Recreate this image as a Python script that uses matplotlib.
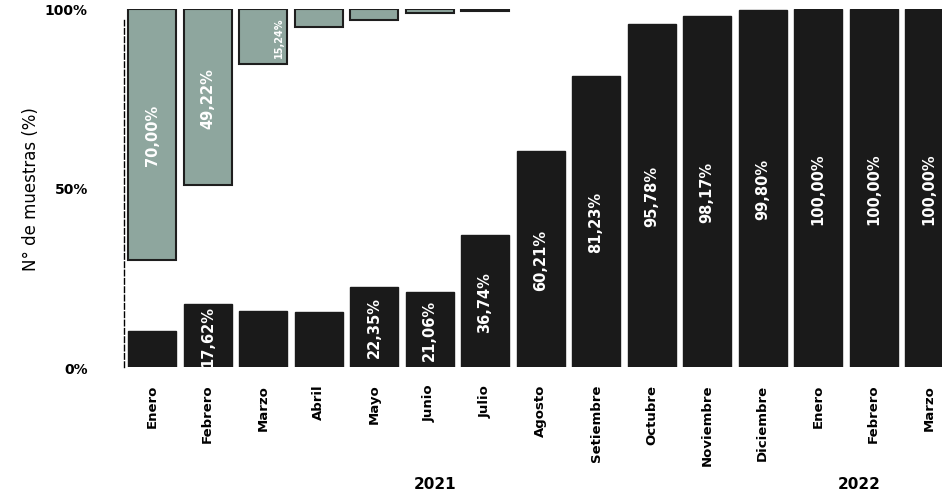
import matplotlib
matplotlib.use('Agg')
import matplotlib.pyplot as plt
import matplotlib.transforms as mtransforms

months = ['Enero', 'Febrero', 'Marzo', 'Abril', 'Mayo', 'Junio', 'Julio', 'Agosto',
          'Setiembre', 'Octubre', 'Noviembre', 'Diciembre', 'Enero', 'Febrero', 'Marzo']
black = [10.00, 17.62, 15.70, 15.40, 22.35, 21.06, 36.74, 60.21,
         81.23, 95.78, 98.17, 99.80, 100.00, 100.00, 100.00]
black_labels = ['', '17,62%', '', '', '22,35%', '21,06%', '36,74%', '60,21%',
                '81,23%', '95,78%', '98,17%', '99,80%', '100,00%', '100,00%', '100,00%']
gray = [70.00, 49.22, 15.24, 5.0, 3.0, 1.0, 0.6, 0, 0, 0, 0, 0, 0, 0, 0]
gray_labels = ['70,00%', '49,22%', '15,24%', '', '', '', '', '', '', '', '', '', '', '', '']
years = ['2021', '2022']
year_pos = [5.1, 12.75]

fig = plt.figure(figsize=(9.42, 5.02), dpi=100)
ax = fig.add_axes([124 / 942, 134 / 502, 818 / 942, 358 / 502])

x = list(range(len(months)))
w = 0.865
ax.bar(x, black, width=w, color='#1a1a1a', edgecolor='#1a1a1a')
gx = [i for i in x if gray[i] > 0]
ax.bar(gx, [gray[i] for i in gx], bottom=[100 - gray[i] for i in gx], width=w,
       color='#8ea69e', edgecolor='#1e1e1e', linewidth=1.5)

for i, lab in enumerate(black_labels):
    if lab:
        ax.text(i, black[i] / 2, lab, rotation=90, ha='center', va='center',
                color='white', fontsize=10.5, fontweight='bold')
for i, lab in enumerate(gray_labels):
    if lab:
        ax.text(i + (0.28 if gray[i] < 20 else 0), 100 - gray[i] / 2, lab, rotation=90,
                ha='center', va='center', color='white',
                fontsize=10.5 if gray[i] > 20 else 7, fontweight='bold')

ax.set_xlim(-0.505, 14.234)
ax.set_ylim(0, 100)
ax.set_yticks([0, 50, 100])
ax.set_yticklabels(['0%', '50%', '100%'], fontsize=10, fontweight='bold')
ax.set_xticks(x)
ax.set_xticklabels(months, rotation=90, fontsize=9.5, fontweight='bold', va='top')
ax.tick_params(axis='y', length=0, pad=26)
ax.tick_params(axis='x', length=0, pad=12)

for s in ['top', 'right', 'bottom']:
    ax.spines[s].set_visible(False)
ax.spines['left'].set_linestyle((0, (4, 2)))
ax.spines['left'].set_linewidth(1)
ax.spines['left'].set_bounds(0, 97)

ax.set_ylabel('N° de muestras (%)', fontsize=12)
ax.yaxis.set_label_coords(-0.103, 0.5)

trans = mtransforms.blended_transform_factory(ax.transData, fig.transFigure)
for yr, p in zip(years, year_pos):
    ax.text(p, 0.02, yr, transform=trans, ha='center', va='bottom',
            fontsize=11, fontweight='bold')

plt.savefig('out.png')
